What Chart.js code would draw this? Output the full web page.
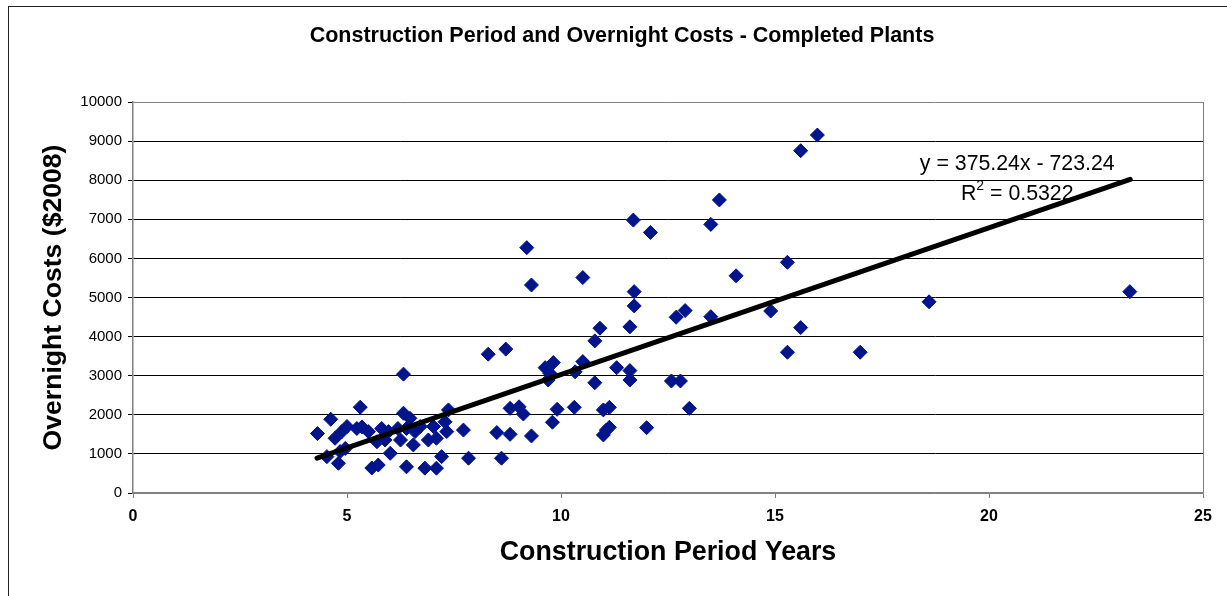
<!DOCTYPE html>
<html>
<head>
<meta charset="utf-8">
<title>Construction Period and Overnight Costs</title>
<script src="https://cdn.jsdelivr.net/npm/chart.js@4.4.1/dist/chart.umd.min.js"></script>
<style>
  html, body { margin: 0; padding: 0; background: #fff; }
  #wrap { position: relative; width: 1227px; height: 596px; }
</style>
</head>
<body>
<div id="wrap"><canvas id="grafico"></canvas></div>
<script>
// construction period (years) and overnight cost ($2008) per completed plant
const periodYears = [
  4.31, 4.62, 4.53, 4.80, 4.72, 4.88, 5.00, 4.96, 4.84, 5.23,
  5.31, 5.35, 5.50, 5.58, 5.73, 5.70, 5.81, 5.89, 5.97, 6.01,
  6.19, 6.25, 6.32, 6.32, 6.39, 6.39, 6.47, 6.55, 6.59, 6.71,
  6.82, 6.90, 7.02, 7.09, 7.09, 7.21, 7.33, 7.29, 7.37, 7.72,
  7.84,
  8.30, 8.71, 8.50, 8.61, 8.81, 8.81, 9.02, 9.12, 9.20, 9.31,
  9.31, 9.63, 9.70, 9.74, 9.82, 9.80, 9.91, 10.31, 10.33, 10.51,
  10.51, 10.79, 10.79, 10.91, 10.99, 10.99, 11.06, 11.13, 11.13, 11.30,
  11.61, 11.61, 11.61, 11.69, 11.71, 11.71, 12.00, 12.09, 12.58, 12.69,
  12.79, 12.90, 13.00, 13.50, 13.50, 13.70, 14.09, 14.90, 15.29, 15.29,
  15.60, 15.60, 15.99, 16.99, 18.60, 23.29
];
const overnightCosts = [
  1520, 1885, 930, 760, 1400, 1570, 1700, 1140, 1060, 1650,
  2195, 1690, 1570, 640, 715, 1310, 1650, 1355, 1570, 1015,
  1650, 1355, 2040, 3040, 1650, 670, 1910, 1230, 1570, 1700,
  635, 1355, 1700, 1400, 635, 930, 1570, 1820, 2125, 1610,
  890,
  3550, 3680, 1545, 890, 1500, 2165, 2205, 2020, 6275, 5320,
  1460, 3205, 2890, 3060, 3335, 1810, 2140, 2190, 3100, 3360,
  5510, 3890, 2820, 4215, 2125, 1485, 1610, 2190, 1680, 3205,
  3130, 2890, 4250, 6980, 5150, 4785, 1670, 6665, 2865, 4495,
  2865, 4665, 2165, 6870, 4510, 7495, 5555, 4655, 5900, 3600,
  8755, 4230, 9155, 3600, 4890, 5150
];
// linear trendline ends, as drawn
const trendYears = [4.3, 23.3];
const trendCosts = [890, 8020];
const trendEquation = 'y = 375.24x - 723.24';
const trendR2 = '0.5322';

const xTickVals = [0, 5, 10, 15, 20, 25];
const yTickVals = [0, 1000, 2000, 3000, 4000, 5000, 6000, 7000, 8000, 9000, 10000];

const tituloGrafico = 'Construction Period and Overnight Costs - Completed Plants';
const FUENTE = 'Arial, "Liberation Sans", sans-serif';

const puntos = periodYears.map((x, i) => ({ x: x, y: overnightCosts[i] }));
const tendencia = trendYears.map((x, i) => ({ x: x, y: trendCosts[i] }));

// marco exterior + titulo (centrado como en Excel, sobre todo el marco)
const marcoPlugin = {
  id: 'marco',
  beforeDraw(chart) {
    const ctx = chart.ctx;
    ctx.save();
    ctx.fillStyle = '#fff';
    ctx.fillRect(0, 0, chart.width, chart.height);
    ctx.strokeStyle = '#222';
    ctx.lineWidth = 1;
    ctx.strokeRect(8.5, 6.5, chart.width + 20, chart.height + 20);
    ctx.fillStyle = '#000';
    ctx.font = 'bold 21.5px ' + FUENTE;
    ctx.textAlign = 'center';
    ctx.textBaseline = 'middle';
    ctx.fillText(tituloGrafico, 622, 36);
    ctx.restore();
  }
};

// ecuacion de la linea de tendencia
const ecuacionPlugin = {
  id: 'ecuacion',
  beforeDatasetsDraw(chart) {
    const { ctx, scales: { x, y } } = chart;
    const cx = x.getPixelForValue(20.66);
    const cy = y.getPixelForValue(8400);
    ctx.save();
    ctx.fillStyle = '#000';
    ctx.textBaseline = 'middle';
    ctx.font = '21.3px ' + FUENTE;
    ctx.textAlign = 'center';
    ctx.fillText(trendEquation, cx, cy);

    // R² = ...
    const resto = ' = ' + trendR2;
    ctx.textAlign = 'left';
    const wR = ctx.measureText('R').width;
    const wResto = ctx.measureText(resto).width;
    ctx.font = '14px ' + FUENTE;
    const wSup = ctx.measureText('2').width;
    const total = wR + wSup + wResto;
    let px = cx - total / 2;
    const py = cy + 30;
    ctx.font = '21.3px ' + FUENTE;
    ctx.fillText('R', px, py);
    px += wR;
    ctx.font = '14px ' + FUENTE;
    ctx.fillText('2', px, py - 8);
    px += wSup;
    ctx.font = '21.3px ' + FUENTE;
    ctx.fillText(resto, px, py);
    ctx.restore();
  }
};

const ctx = document.getElementById('grafico');
new Chart(ctx, {
  type: 'scatter',
  data: {
    datasets: [
      {
        type: 'line',
        label: 'Tendencia',
        data: tendencia,
        borderColor: '#000',
        borderWidth: 5,
        borderCapStyle: 'round',
        pointRadius: 0,
        fill: false,
        order: 0
      },
      {
        label: 'Plantas',
        data: puntos,
        pointStyle: 'rectRot',
        pointRadius: 7,
        pointBackgroundColor: '#00148C',
        pointBorderColor: '#00148C',
        pointBorderWidth: 1,
        order: 1
      }
    ]
  },
  options: {
    responsive: true,
    maintainAspectRatio: false,
    animation: false,
    layout: { padding: { top: 102, left: 0, right: 24, bottom: 0 } },
    plugins: {
      legend: { display: false },
      tooltip: { enabled: false },
      title: { display: false }
    },
    scales: {
      x: {
        type: 'linear',
        min: 0,
        max: 25,
        afterBuildTicks: (s) => { s.ticks = xTickVals.map(v => ({ value: v })); },
        afterFit: (s) => { s.height = 103; },
        ticks: {
          color: '#000',
          padding: 9,
          font: { family: FUENTE, size: 16, weight: 'bold' },
          callback: (v) => String(v)
        },
        grid: {
          color: (c) => c.tick && c.tick.value === 25 ? '#808080' : 'rgba(0,0,0,0)',
          tickColor: '#808080',
          tickLength: 5
        },
        border: { color: '#808080', width: 1.5 },
        title: {
          display: true,
          text: 'Construction Period Years',
          color: '#000',
          font: { family: FUENTE, size: 26.8, weight: 'bold' },
          padding: { top: 0, bottom: 27 }
        }
      },
      y: {
        type: 'linear',
        min: 0,
        max: 10000,
        afterBuildTicks: (s) => { s.ticks = yTickVals.map(v => ({ value: v })); },
        afterFit: (s) => { s.width = 133; },
        ticks: {
          color: '#000',
          padding: 6,
          font: { family: FUENTE, size: 15 },
          callback: (v) => String(v)
        },
        grid: {
          color: (c) => (c.tick && (c.tick.value === 10000 || c.tick.value === 0)) ? '#808080' : '#000',
          tickColor: '#000',
          tickLength: 5
        },
        border: { color: '#808080', width: 1.5 },
        title: {
          display: true,
          text: 'Overnight Costs ($2008)',
          color: '#000',
          font: { family: FUENTE, size: 26.6, weight: 'bold' },
          padding: { top: 38, bottom: 0 }
        }
      }
    }
  },
  plugins: [marcoPlugin, ecuacionPlugin]
});
</script>
</body>
</html>
